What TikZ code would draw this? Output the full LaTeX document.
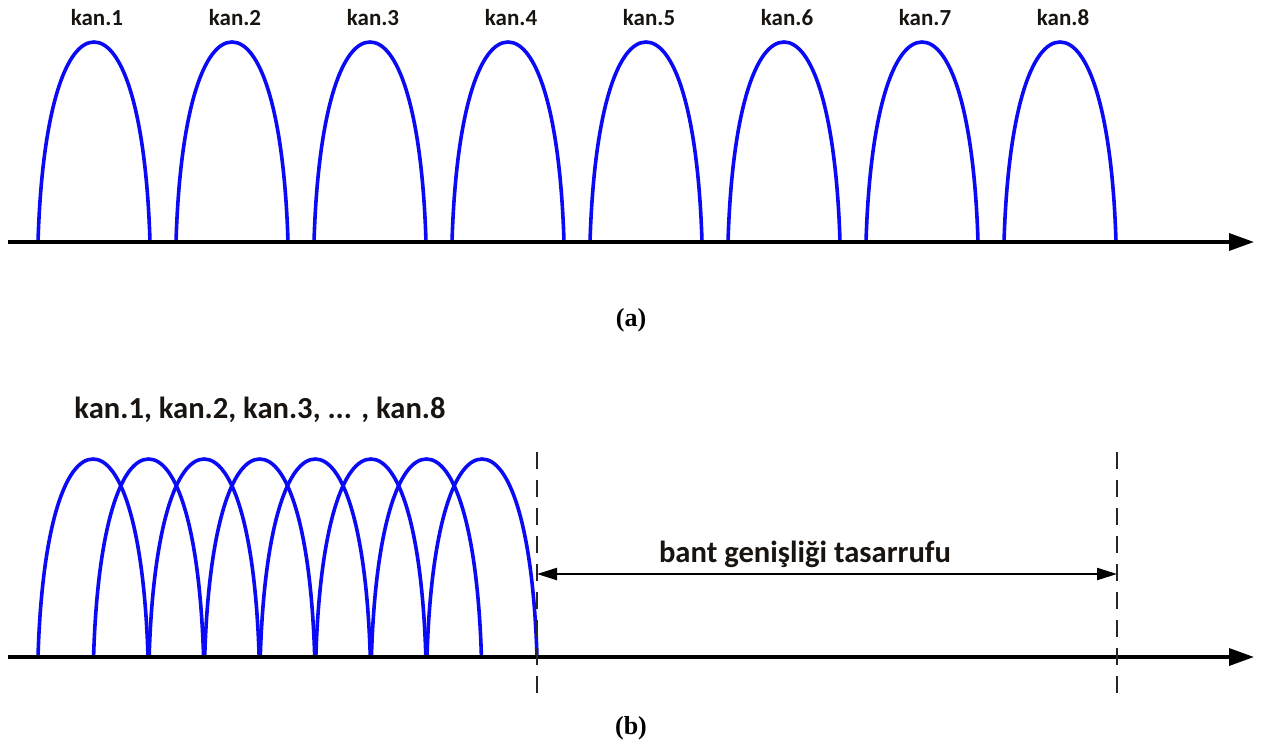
\documentclass[tikz,border=0pt]{standalone}
\usepackage{fontspec}
\setmainfont{Carlito}
\newfontfamily\tnrfont{Liberation Serif}
\usetikzlibrary{arrows.meta}
\definecolor{archblue}{RGB}{10,10,245}
\definecolor{txtdark}{RGB}{25,20,15}
\tikzset{
  archline/.style={draw=archblue, line width=1.8pt},
  axisline/.style={draw=black, line width=1.7pt, -{Triangle[length=12.5pt,width=8.5pt]}},
  guide/.style={draw=black!85, line width=1.1pt, dash pattern=on 8.5pt off 5.5pt},
  span/.style={draw=black, line width=1.1pt, {Triangle[length=10pt,width=6pt]}-{Triangle[length=10pt,width=6pt]}},
  kanlbl/.style={font=\bfseries\fontsize{11.5pt}{13pt}\selectfont, text=txtdark, inner sep=0pt},
  biglbl/.style={font=\bfseries\fontsize{15.3pt}{18pt}\selectfont, text=txtdark, inner sep=0pt},
  caplbl/.style={font=\tnrfont\bfseries\fontsize{13pt}{15pt}\selectfont, text=black, inner sep=0pt}
}
\newcommand\myarch[4]{%
  \draw[archline] (#1,#2) .. controls ({#1+0.036*#3},{#2-0.66*#4}) and ({#1+0.25*#3},{#2-#4}) .. ({#1+0.5*#3},{#2-#4})
    .. controls ({#1+0.75*#3},{#2-#4}) and ({#1+0.964*#3},{#2-0.66*#4}) .. ({#1+#3},#2);}
\begin{document}
\begin{tikzpicture}[x=0.5pt,y=-0.5pt]
\useasboundingbox (0,0) rectangle (1277,751);
% ---------- (a) ----------
\foreach \n in {1,...,8}{
  \pgfmathsetmacro\xs{38+138*(\n-1)}
  \myarch{\xs}{242}{112}{200}
  \node[kanlbl] (ka\n) at ({97+138*(\n-1)},18) {kan.\n};
}
\coordinate (axa0) at (8,242);
\coordinate (axa1) at (1254,242);
\draw[axisline] (axa0) -- (axa1);
\node[caplbl] (capa) at (631,320) {(a)};
% ---------- (b) ----------
\foreach \n in {0,...,7}{
  \pgfmathsetmacro\xs{38+55.57*\n}
  \myarch{\xs}{657}{110}{198}
}
\coordinate (axb0) at (8,657);
\coordinate (axb1) at (1254,657);
\draw[axisline] (axb0) -- (axb1);
\coordinate (g1t) at (537,452);
\coordinate (g1b) at (537,696);
\coordinate (g2t) at (1117,452);
\coordinate (g2b) at (1117,696);
\draw[guide] (g1t) -- (g1b);
\draw[guide] (g2t) -- (g2b);
\coordinate (s1) at (537,574);
\coordinate (s2) at (1117,574);
\draw[span] (s1) -- (s2);
\node[biglbl] (bw) at (805,554) {bant genişliği tasarrufu};
\node[biglbl] (kb) at (260,410) {kan.1, kan.2, kan.3, ... , kan.8};
\node[caplbl] (capb) at (631,728) {(b)};
\end{tikzpicture}
\end{document}
